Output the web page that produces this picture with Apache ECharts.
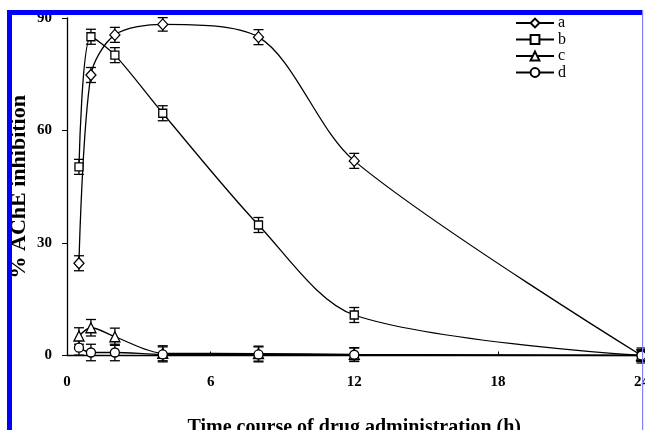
<!DOCTYPE html>
<html>
<head>
<meta charset="utf-8">
<script src="https://cdn.jsdelivr.net/npm/echarts@6/dist/echarts.min.js"></script>
<style>
  html, body { margin: 0; padding: 0; background: #fff; }
  #chart { width: 645px; height: 430px; }
</style>
</head>
<body>
<div id="chart"></div>
<script>
// Sampling times (h)
const hours = [0.5, 1, 2, 4, 8, 12, 24];
// % AChE inhibition for each group
const seriesA = [24.6, 74.8, 85.5, 88.3, 84.9, 51.9, 0];
const seriesB = [50.3, 85.0, 80.1, 64.6, 34.8, 10.8, 0];
const seriesC = [5.2, 7.4, 5.0, 0.6, 0.5, 0.3, 0];
const seriesD = [2.1, 0.8, 0.8, 0.3, 0.3, 0.2, 0];
// Standard errors
const errA = [2.0, 2.0, 2.0, 1.8, 2.0, 2.0, 1.5];
const errB = [2.0, 2.0, 2.0, 2.0, 2.0, 2.0, 2.0];
const errC = [2.2, 2.2, 2.3, 2.0, 2.0, 1.8, 1.5];
const errD = [2.0, 2.2, 2.2, 2.0, 2.0, 1.8, 1.5];
// Axis ticks
const xTicks = [0, 6, 12, 18, 24];
const yTicks = [0, 30, 60, 90];
const groupNames = ['a', 'b', 'c', 'd'];

const serif = '"Liberation Serif", "Times New Roman", serif';

const groups = [
  { name: groupNames[0], vals: seriesA, errs: errA, symbol: 'diamond', size: [10, 11] },
  { name: groupNames[1], vals: seriesB, errs: errB, symbol: 'rect', size: 8 },
  { name: groupNames[2], vals: seriesC, errs: errC, symbol: 'triangle', size: 10 },
  { name: groupNames[3], vals: seriesD, errs: errD, symbol: 'circle', size: 9 }
];

const lineSeries = groups.map(g => ({
  name: g.name,
  type: 'line',
  smooth: 0.3,
  z: 3,
  symbol: g.symbol,
  symbolSize: g.size,
  data: hours.map((h, i) => [h, g.vals[i]]),
  lineStyle: { color: '#000', width: 1.3 },
  itemStyle: { color: '#fff', borderColor: '#000', borderWidth: 1.3 }
}));

const errorSeries = groups.map(g => ({
  name: g.name + '-err',
  type: 'custom',
  z: 2,
  silent: true,
  data: hours.map((h, i) => [h, g.vals[i] - g.errs[i], g.vals[i] + g.errs[i]]),
  renderItem: function (params, api) {
    const lo = api.coord([api.value(0), api.value(1)]);
    const hi = api.coord([api.value(0), api.value(2)]);
    const hw = 5;
    const style = { stroke: '#000', lineWidth: 1.3, fill: null };
    return {
      type: 'group',
      children: [
        { type: 'line', shape: { x1: lo[0], y1: lo[1], x2: hi[0], y2: hi[1] }, style },
        { type: 'line', shape: { x1: lo[0] - hw, y1: lo[1], x2: lo[0] + hw, y2: lo[1] }, style },
        { type: 'line', shape: { x1: hi[0] - hw, y1: hi[1], x2: hi[0] + hw, y2: hi[1] }, style }
      ]
    };
  }
}));

const chart = echarts.init(document.getElementById('chart'), null, { renderer: 'canvas' });
chart.setOption({
  backgroundColor: '#fff',
  animation: false,
  grid: { left: 67, right: 3.5, top: 18, bottom: 74.5, containLabel: false, outerBoundsMode: 'none' },
  legend: {
    data: groupNames,
    orient: 'vertical',
    left: 515,
    top: 15,
    padding: 0,
    itemWidth: 38,
    itemHeight: 11,
    itemGap: 0.5,
    textStyle: { fontFamily: serif, fontSize: 16, color: '#000', padding: [0, 0, 0, -1] }
  },
  xAxis: {
    type: 'value',
    min: xTicks[0],
    max: xTicks[xTicks.length - 1],
    interval: 6,
    name: 'Time course of drug administration (h)',
    nameLocation: 'middle',
    nameGap: 62,
    nameTextStyle: { fontFamily: serif, fontSize: 20, fontWeight: 'bold', color: '#000' },
    axisLine: { lineStyle: { color: '#000', width: 1.3 } },
    axisTick: { inside: true, length: 4, lineStyle: { color: '#000' } },
    axisLabel: { fontFamily: serif, fontSize: 15, fontWeight: 'bold', color: '#000', margin: 19 },
    splitLine: { show: false }
  },
  yAxis: {
    type: 'value',
    min: yTicks[0],
    max: yTicks[yTicks.length - 1],
    interval: 30,
    name: '% AChE inhibition',
    nameLocation: 'middle',
    nameGap: 37,
    nameMoveOverlap: false,
    nameTextStyle: { fontFamily: serif, fontSize: 22, fontWeight: 'bold', color: '#000' },
    axisLine: { show: true, lineStyle: { color: '#000', width: 1.3 } },
    axisTick: { show: true, length: 5, lineStyle: { color: '#000' } },
    axisLabel: { fontFamily: serif, fontSize: 15, fontWeight: 'bold', color: '#000', margin: 15 },
    splitLine: { show: false }
  },
  graphic: [
    { type: 'rect', z: 100, shape: { x: 7, y: 10, width: 5, height: 420 }, style: { fill: '#0000ff' } },
    { type: 'rect', z: 100, shape: { x: 7, y: 10, width: 636, height: 5 }, style: { fill: '#0000ff' } },
    { type: 'rect', z: 100, shape: { x: 642, y: 10, width: 1.2, height: 420 }, style: { fill: '#8080ff' } }
  ],
  series: errorSeries.concat(lineSeries)
});
</script>
</body>
</html>
